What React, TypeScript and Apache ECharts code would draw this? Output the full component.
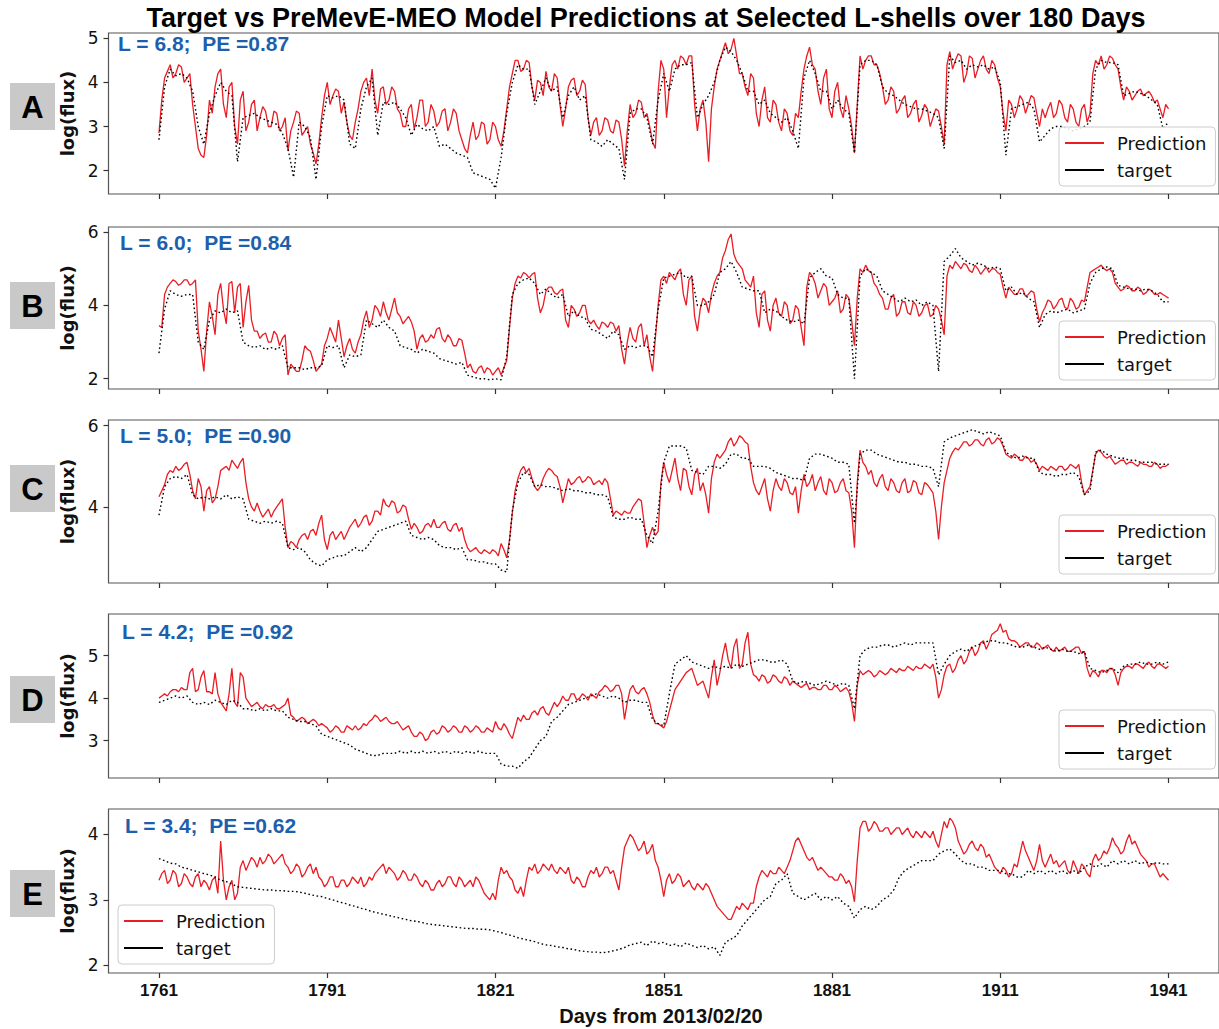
import React, { useEffect, useRef } from "react";
import * as echarts from "echarts";

const FIRST_DAY = 1761;
const X_TICKS = [1761, 1791, 1821, 1851, 1881, 1911, 1941];

// ---------- Panel A : L = 6.8 ----------
// prediction at whole days 1761..1941
const predA = [
  2.85, 4.1, 4.4, 4.2, 4.35, 4.1, 3.5, 2.5, 2.3, 3.6,
  3.9, 4.3, 3.2, 4.0, 2.6, 3.8, 3.1, 3.6, 3.2, 3.35,
  3.0, 3.3, 3.0, 2.45, 3.1, 3.3, 2.9, 2.6, 2.15, 3.2,
  4.0, 3.7, 3.8, 3.55, 2.8, 3.1, 3.8, 4.1, 4.3, 3.3,
  3.9, 3.6, 3.8, 3.3, 3.0, 3.5, 3.2, 3.6, 3.1, 3.35,
  3.1, 3.4, 3.1, 3.3, 2.7, 2.4, 3.1, 2.8, 3.05, 2.7,
  3.0, 2.55, 3.4, 4.2, 4.5, 4.3, 4.45, 3.6, 4.0, 4.25,
  3.8, 4.1, 3.0, 3.9, 4.1, 3.8, 3.95, 2.8, 3.2, 2.9,
  3.15, 2.85, 3.1, 2.1, 3.5, 3.3, 3.55, 3.3, 2.65, 3.8,
  4.3, 3.9, 4.5, 4.6, 4.4, 4.6, 2.9, 3.6, 2.2, 3.9,
  4.5, 4.9, 4.75, 4.6, 4.2, 3.7, 4.1, 3.0, 3.9, 3.1,
  3.5, 2.9, 3.3, 2.8, 3.2, 4.3, 4.8, 4.3, 3.5, 4.3,
  3.2, 4.0, 3.2, 3.4, 2.4, 4.6, 4.5, 4.6, 4.4, 3.9,
  3.6, 3.8, 3.4, 3.7, 3.3, 3.6, 3.25, 3.4, 3.2, 3.35,
  2.6, 4.7, 4.5, 4.6, 4.2, 4.55, 4.3, 4.6, 4.2, 4.4,
  3.9, 2.9, 3.5, 3.4, 3.6, 3.5, 3.65, 3.0, 3.2, 3.55,
  3.3, 3.5, 3.1, 3.4, 3.0, 3.5, 3.3, 4.5, 4.6, 4.4,
  4.55, 4.3, 3.6, 3.8, 3.7, 3.85, 3.75, 3.7, 3.6, 3.2,
  3.4,
];
// prediction at half days 1761.5..1940.5
const predHalfA = [
  3.6, 4.25, 4.1, 4.4, 4.0, 4.2, 3.0, 2.35, 2.8, 3.3,
  4.2, 3.5, 3.9, 3.0, 3.6, 2.9, 3.5, 2.9, 3.45, 3.0,
  3.35, 2.9, 3.2, 2.9, 3.35, 2.8, 3.0, 2.4, 2.6, 3.7,
  3.5, 3.85, 3.3, 3.1, 2.7, 3.4, 4.0, 3.7, 3.6, 3.85,
  3.5, 3.9, 3.4, 3.0, 3.4, 2.95, 3.6, 3.0, 3.5, 3.0,
  3.35, 2.9, 3.4, 2.9, 2.5, 2.8, 2.7, 3.1, 2.6, 3.1,
  2.7, 2.9, 3.9, 4.5, 4.25, 4.5, 3.9, 4.05, 3.7, 3.9,
  4.2, 3.5, 3.4, 4.05, 3.7, 4.05, 3.2, 3.1, 2.8, 3.2,
  2.9, 3.15, 2.7, 2.9, 3.2, 3.6, 3.2, 3.0, 2.5, 4.5,
  3.2, 4.4, 4.3, 4.55, 4.6, 3.5, 3.4, 3.1, 3.4, 4.3,
  4.7, 4.65, 5.0, 4.2, 3.9, 4.2, 3.3, 3.6, 3.2, 3.6,
  3.1, 3.4, 2.9, 3.3, 3.8, 4.6, 4.4, 3.8, 4.1, 3.4,
  3.8, 3.4, 3.7, 3.0, 3.5, 4.3, 4.6, 4.4, 4.2, 3.5,
  3.9, 3.3, 3.6, 3.2, 3.5, 3.1, 3.5, 3.0, 3.4, 3.0,
  4.4, 4.3, 4.65, 4.0, 4.6, 4.1, 4.5, 4.3, 4.5, 4.1,
  3.3, 3.6, 3.2, 3.7, 3.3, 3.7, 3.3, 3.4, 3.4, 3.2,
  3.6, 3.2, 3.5, 3.1, 3.4, 3.1, 4.2, 4.4, 4.3, 4.6,
  4.4, 3.9, 3.9, 3.6, 3.8, 3.7, 3.8, 3.55, 3.4, 3.5,
];
const targetA = [
  2.7, 3.9, 4.3, 4.15, 4.2, 4.1, 3.8, 3.0, 2.6, 3.3,
  3.7, 4.0, 3.8, 3.7, 2.2, 3.2, 3.25, 3.3, 3.2, 3.15,
  3.1, 3.05, 2.85, 2.5, 1.85, 3.1, 3.0, 2.75, 1.8, 3.0,
  3.7, 3.65, 3.7, 3.6, 2.6, 2.5, 3.4, 3.9, 4.1, 2.8,
  3.55, 3.5, 3.55, 3.4, 3.2, 2.8, 3.05, 2.95, 2.9, 3.0,
  2.55, 2.6, 2.5, 2.4, 2.35, 2.3, 1.95, 1.9, 1.85, 1.8,
  1.6, 2.3, 3.3, 4.0, 4.4, 4.3, 4.3, 3.5, 3.8, 4.1,
  3.8, 3.9, 3.2, 3.7, 3.9, 3.6, 3.7, 2.7, 2.65, 2.55,
  2.7, 2.6, 2.5, 1.8, 3.3, 3.4, 3.4, 3.2, 2.6, 3.6,
  4.2, 3.8, 4.3, 4.4, 4.4, 4.45, 3.2, 3.5, 3.7, 4.0,
  4.5, 4.8, 4.7, 4.5, 4.2, 3.8, 3.8, 3.5, 3.6, 3.3,
  3.2, 3.1, 3.2, 2.9, 2.5, 4.1, 4.5, 4.2, 3.8, 3.8,
  3.4, 3.6, 3.4, 3.3, 2.4, 4.4, 4.5, 4.5, 4.4, 3.9,
  3.75, 3.7, 3.6, 3.5, 3.45, 3.4, 3.4, 3.35, 3.3, 3.2,
  2.5, 4.6, 4.45, 4.5, 4.3, 4.4, 4.35, 4.4, 4.3, 4.35,
  4.0, 2.35, 3.4, 3.45, 3.5, 3.55, 3.4, 2.65, 2.8, 2.95,
  3.0, 3.0, 2.95, 2.9, 2.95, 3.0, 3.1, 4.3, 4.5, 4.45,
  4.45, 4.4, 3.7, 3.75, 3.8, 3.75, 3.7, 3.6, 3.5, 2.95,
  3.1,
];

// ---------- Panel B : L = 6.0 ----------
const predB = [
  3.45, 4.3, 4.6, 4.65, 4.6, 4.7, 4.6, 3.3, 2.2, 4.1,
  3.2, 4.6, 3.5, 4.65, 4.5, 3.4, 4.55, 3.3, 3.1, 3.25,
  3.0, 3.2, 3.1, 2.1, 2.3, 2.2, 2.9, 2.75, 2.2, 2.4,
  3.1, 3.2, 3.6, 2.6, 3.1, 2.7, 3.2, 3.85, 3.6, 3.9,
  4.1, 3.6, 4.2, 3.7, 3.6, 3.55, 2.8, 3.2, 3.05, 3.1,
  3.4, 3.0, 3.1, 2.9, 3.05, 2.3, 2.2, 2.3, 2.15, 2.25,
  2.2, 2.1, 2.5, 4.2, 4.8, 4.9, 4.75, 4.9, 3.8, 4.4,
  4.5, 4.3, 4.45, 3.4, 3.9, 3.8, 4.0, 3.5, 3.45, 3.55,
  3.4, 3.5, 3.45, 2.4, 3.4, 3.0, 3.5, 3.2, 2.2, 4.0,
  4.8, 4.9, 4.7, 5.0, 4.0, 4.8, 3.3, 4.2, 3.8, 4.6,
  4.9, 5.5, 5.95, 5.2, 5.0, 4.6, 4.8, 3.4, 4.4, 3.3,
  4.2, 3.7, 4.0, 3.6, 3.9, 2.9, 4.9, 4.6, 4.4, 4.5,
  4.1, 4.4, 3.9, 4.2, 2.9, 5.0, 5.1, 4.9, 4.5, 4.2,
  3.9, 4.3, 3.8, 4.1, 3.75, 4.0, 3.8, 4.05, 3.75, 3.9,
  3.2, 5.1, 5.2, 5.0, 5.1, 4.9, 5.0, 4.95, 4.9, 5.0,
  4.85, 4.2, 4.4, 4.3, 4.45, 4.3, 4.35, 3.55, 3.95, 4.1,
  4.0, 4.2, 3.9, 4.1, 3.95, 4.1, 4.9, 5.0, 5.1, 4.95,
  4.9, 4.5, 4.45, 4.5, 4.4, 4.45, 4.35, 4.4, 4.3, 4.3,
  4.2,
];
const predHalfB = [
  3.4, 4.5, 4.7, 4.55, 4.7, 4.55, 4.7, 2.8, 3.3, 3.7,
  4.3, 3.9, 4.6, 3.8, 4.6, 4.1, 3.6, 3.3, 3.2, 3.0,
  3.3, 2.9, 3.2, 2.4, 2.2, 2.5, 2.8, 2.5, 2.3, 2.9,
  3.4, 3.0, 3.1, 2.9, 2.8, 3.0, 3.6, 3.4, 4.0, 3.7,
  3.8, 3.9, 3.8, 3.5, 3.7, 3.3, 3.1, 3.0, 3.2, 3.35,
  3.1, 3.2, 2.9, 3.1, 2.7, 2.4, 2.15, 2.35, 2.3, 2.1,
  2.3, 2.3, 3.4, 4.6, 4.75, 4.85, 4.85, 4.2, 4.0, 4.5,
  4.35, 4.4, 3.6, 4.0, 3.7, 4.0, 3.6, 3.6, 3.35, 3.5,
  3.55, 3.3, 2.8, 3.0, 3.1, 3.4, 2.9, 2.6, 3.1, 4.7,
  4.6, 4.8, 4.9, 4.3, 4.7, 3.7, 3.9, 4.1, 4.3, 4.8,
  5.3, 5.8, 5.4, 5.1, 4.7, 4.5, 3.8, 4.3, 3.6, 4.0,
  3.8, 4.1, 3.5, 4.0, 3.4, 4.5, 4.8, 4.2, 4.6, 4.0,
  4.2, 3.8, 4.3, 3.6, 4.2, 4.9, 4.95, 4.6, 4.3, 3.9,
  4.2, 3.7, 4.1, 3.8, 4.1, 3.7, 4.0, 3.7, 4.0, 3.6,
  4.8, 5.0, 5.1, 5.15, 4.95, 5.1, 4.85, 5.05, 5.0, 4.9,
  4.5, 4.5, 4.3, 4.45, 4.25, 4.4, 3.9, 3.8, 4.15, 3.9,
  4.15, 3.95, 4.2, 3.9, 4.15, 4.5, 4.95, 5.05, 5.0, 5.0,
  4.6, 4.4, 4.55, 4.4, 4.5, 4.3, 4.45, 4.3, 4.35, 4.25,
];
const targetB = [
  2.7, 3.9, 4.4, 4.3, 4.25, 4.3, 4.3, 3.0, 2.8, 3.6,
  3.85, 3.8, 3.9, 3.8, 3.85, 3.0, 2.9, 2.85, 2.9, 2.8,
  2.85, 2.8, 2.9, 2.3, 2.3, 2.3, 2.25, 2.3, 2.3, 2.35,
  2.9, 2.85, 2.9, 2.3, 2.65, 2.6, 2.65, 3.6, 3.5, 3.4,
  3.6, 3.4, 3.3, 2.9, 2.85, 2.8, 2.7, 2.8, 2.75, 2.7,
  2.55, 2.5, 2.45, 2.4, 2.45, 2.1, 2.05, 2.0, 2.0, 1.97,
  2.0, 1.97, 2.6, 4.3, 4.6, 4.7, 4.75, 4.6, 4.3, 4.45,
  4.3, 4.2, 4.3, 3.7, 3.85, 3.7, 3.65, 3.35, 3.3, 3.2,
  3.1, 3.3, 3.2, 2.8, 2.9, 2.85, 2.9, 2.9, 2.6, 3.9,
  4.75, 4.8, 4.85, 4.9, 4.75, 4.8, 4.0, 4.0, 4.1, 4.3,
  4.9, 5.0, 5.2, 4.9, 4.5, 4.45, 4.4, 4.4, 3.8, 3.9,
  3.85, 3.7, 3.6, 3.55, 3.6, 3.5, 4.75, 4.9, 5.0, 4.8,
  4.75, 4.3, 4.2, 4.2, 2.0, 4.8, 5.0, 4.9, 4.8, 4.4,
  4.3, 4.2, 4.1, 4.2, 4.1, 4.15, 4.0, 4.1, 4.0, 2.2,
  5.2, 5.35, 5.55, 5.3, 5.2, 5.1, 5.15, 5.1, 5.0, 5.05,
  5.0, 4.4, 4.5, 4.3, 4.35, 4.2, 4.1, 3.4, 3.75, 3.85,
  3.8, 3.85, 3.9, 3.8, 3.85, 3.9, 4.6, 4.9, 5.0, 5.05,
  5.0, 4.55, 4.5, 4.45, 4.45, 4.4, 4.45, 4.4, 4.3, 4.1,
  4.1,
];

// ---------- Panel C : L = 5.0 ----------
const predC = [
  4.25, 4.55, 4.9, 5.0, 4.95, 5.1, 4.4, 4.7, 3.9, 4.5,
  4.2, 4.9, 5.0, 5.15, 4.95, 5.2, 4.2, 3.9, 3.9, 3.85,
  3.75, 4.0, 4.2, 3.0, 3.1, 3.2, 3.35, 3.4, 3.3, 3.8,
  2.95, 3.4, 3.3, 3.2, 3.5, 3.7, 3.6, 3.8, 3.65, 3.9,
  4.2, 4.0, 4.1, 3.9, 4.0, 3.45, 3.5, 3.4, 3.6, 3.7,
  3.5, 3.65, 3.4, 3.6, 3.5, 3.0, 2.95, 2.9, 2.95, 2.85,
  2.9, 3.1, 2.75, 3.85, 4.7, 5.0, 4.95, 4.5, 4.5, 4.85,
  4.9, 4.75, 4.1, 4.7, 4.6, 4.75, 4.65, 4.7, 4.6, 4.55,
  4.6, 3.8, 3.85, 3.9, 3.85, 4.1, 4.15, 3.0, 3.5, 3.4,
  5.1, 4.6, 5.2, 4.4, 4.9, 4.3, 4.95, 4.6, 3.85, 5.1,
  5.2, 5.4, 5.7, 5.6, 5.7, 5.55, 4.6, 4.3, 4.7, 3.9,
  4.7, 4.4, 4.6, 4.3, 3.85, 4.8, 4.6, 4.4, 4.75, 4.3,
  4.6, 4.4, 4.7, 4.35, 3.0, 5.4, 5.0, 4.9, 4.5, 4.8,
  4.4, 4.6, 4.35, 4.7, 4.4, 4.6, 4.3, 4.55, 4.35, 3.2,
  4.6, 5.2, 5.45, 5.5, 5.6, 5.55, 5.65, 5.5, 5.7, 5.6,
  5.65, 5.3, 5.2, 5.25, 5.15, 5.2, 5.15, 4.9, 4.95, 5.0,
  4.9, 5.0, 4.95, 5.0, 5.05, 4.3, 4.5, 5.3, 5.35, 5.2,
  5.15, 5.1, 5.15, 5.1, 5.05, 5.1, 5.05, 5.0, 5.05, 5.0,
  5.05,
];
const predHalfC = [
  4.4, 4.8, 4.85, 4.9, 5.05, 4.8, 4.2, 4.5, 4.4, 4.1,
  4.5, 4.95, 4.9, 5.05, 5.1, 4.6, 4.0, 4.1, 3.75, 3.95,
  3.9, 4.1, 3.5, 3.15, 3.0, 3.3, 3.2, 3.45, 3.6, 3.2,
  3.3, 3.2, 3.4, 3.35, 3.6, 3.5, 3.75, 3.55, 3.9, 3.8,
  4.05, 4.15, 3.85, 4.05, 3.7, 3.6, 3.35, 3.55, 3.5, 3.5,
  3.6, 3.45, 3.55, 3.4, 3.2, 2.9, 3.0, 2.85, 2.9, 2.95,
  2.8, 2.95, 3.2, 4.4, 4.9, 4.85, 4.7, 4.4, 4.7, 4.95,
  4.8, 4.5, 4.4, 4.55, 4.7, 4.6, 4.75, 4.55, 4.65, 4.7,
  4.2, 3.9, 3.8, 3.85, 4.0, 4.2, 3.6, 3.3, 3.3, 4.6,
  4.8, 4.9, 4.7, 4.95, 4.5, 4.8, 4.4, 4.3, 4.7, 5.3,
  5.3, 5.6, 5.5, 5.75, 5.6, 5.0, 4.4, 4.5, 4.2, 4.4,
  4.5, 4.7, 4.35, 4.5, 4.4, 4.5, 4.8, 4.6, 4.4, 4.7,
  4.35, 4.6, 4.4, 3.9, 4.6, 5.1, 4.8, 4.6, 4.7, 4.5,
  4.7, 4.4, 4.6, 4.35, 4.65, 4.35, 4.6, 4.45, 3.9, 4.0,
  4.9, 5.35, 5.4, 5.6, 5.5, 5.65, 5.55, 5.65, 5.55, 5.7,
  5.5, 5.25, 5.3, 5.15, 5.25, 5.1, 5.05, 5.0, 4.9, 4.95,
  5.0, 4.9, 5.05, 4.95, 4.6, 4.4, 4.9, 5.4, 5.25, 5.25,
  5.05, 5.15, 5.05, 5.1, 5.0, 5.05, 5.0, 5.1, 4.95, 5.0,
];
const targetC = [
  3.8, 4.5, 4.7, 4.75, 4.7, 4.8, 4.3, 4.2, 4.25, 4.2,
  4.25, 4.2, 4.3, 4.2, 4.25, 4.2, 3.7, 3.65, 3.6, 3.65,
  3.6, 3.65, 3.6, 3.0, 2.95, 3.0, 2.9, 2.7, 2.6, 2.55,
  2.7, 2.75, 2.8, 2.8, 2.9, 3.0, 2.9, 3.0, 3.2, 3.4,
  3.45, 3.5, 3.55, 3.6, 3.65, 3.3, 3.25, 3.2, 3.25, 3.2,
  3.05, 3.0, 3.0, 2.95, 3.0, 2.7, 2.7, 2.65, 2.65, 2.6,
  2.6, 2.45, 2.4, 3.9, 4.6, 4.85, 4.8, 4.5, 4.55, 4.5,
  4.5, 4.45, 4.4, 4.45, 4.4, 4.4, 4.35, 4.35, 4.3, 4.3,
  4.25, 3.75, 3.7, 3.7, 3.75, 3.7, 3.7, 3.3, 3.1, 3.9,
  5.1, 5.5, 5.5, 5.5, 5.45, 4.9, 4.85, 4.8, 5.0, 5.0,
  4.95, 5.05, 5.3, 5.3, 5.2, 5.2, 5.0, 5.0, 5.0, 4.95,
  4.85, 4.8, 4.75, 4.7, 4.7, 4.65, 5.2, 5.3, 5.3, 5.25,
  5.2, 5.1, 5.1, 5.05, 3.6, 5.3, 5.4, 5.4, 5.3, 5.25,
  5.2, 5.15, 5.1, 5.1, 5.05, 5.05, 5.0, 5.0, 4.95, 4.5,
  5.6, 5.7, 5.75, 5.8, 5.85, 5.9, 5.85, 5.8, 5.85, 5.8,
  5.75, 5.35, 5.25, 5.2, 5.25, 5.2, 5.2, 4.85, 4.8, 4.8,
  4.75, 4.8, 4.8, 4.85, 4.75, 4.3, 4.4, 5.35, 5.4, 5.3,
  5.25, 5.2, 5.2, 5.15, 5.15, 5.1, 5.1, 5.1, 5.05, 5.05,
  5.05,
];

// ---------- Panel D : L = 4.2 ----------
const predD = [
  4.0, 4.1, 4.15, 4.2, 4.25, 4.2, 4.7, 4.2, 4.65, 4.15,
  4.6, 3.9, 3.7, 4.7, 3.8, 4.5, 3.9, 3.85, 3.8, 3.85,
  3.8, 3.75, 3.8, 4.0, 3.55, 3.5, 3.5, 3.45, 3.45, 3.4,
  3.3, 3.25, 3.3, 3.2, 3.3, 3.35, 3.3, 3.35, 3.5, 3.55,
  3.5, 3.45, 3.4, 3.35, 3.3, 3.2, 3.1, 3.15, 3.05, 3.25,
  3.2, 3.3, 3.25, 3.3, 3.2, 3.3, 3.25, 3.3, 3.2, 3.25,
  3.45, 3.25, 3.3, 3.05, 3.55, 3.6, 3.5, 3.7, 3.75, 3.65,
  3.75, 3.8, 4.05, 3.95, 4.1, 4.0, 4.05, 4.1, 4.0, 4.2,
  4.25, 4.2, 4.3, 3.5, 4.2, 4.15, 4.2, 4.1, 3.6, 3.4,
  3.3, 3.7, 4.2, 4.4, 4.6, 4.7, 4.3, 4.4, 4.0, 4.9,
  4.6, 5.3, 4.7, 5.4, 4.8, 5.55, 4.55, 4.4, 4.5, 4.4,
  4.5, 4.35, 4.45, 4.4, 4.3, 4.3, 4.2, 4.25, 4.2, 4.3,
  4.2, 4.25, 4.2, 4.15, 3.45, 4.65, 4.6, 4.6, 4.55, 4.6,
  4.6, 4.65, 4.7, 4.65, 4.7, 4.75, 4.7, 4.75, 4.8, 4.0,
  4.55, 4.8, 4.7, 5.0, 4.9, 5.2, 5.1, 5.35, 5.3, 5.55,
  5.75, 5.6, 5.35, 5.3, 5.25, 5.3, 5.2, 5.25, 5.2, 5.15,
  5.2, 5.15, 5.1, 5.15, 5.2, 5.1, 4.5, 4.6, 4.65, 4.6,
  4.7, 4.3, 4.7, 4.75, 4.8, 4.75, 4.8, 4.75, 4.8, 4.75,
  4.75,
];
const predHalfD = [
  4.05, 4.05, 4.2, 4.15, 4.2, 4.6, 4.15, 4.5, 4.15, 4.1,
  4.1, 3.8, 4.1, 3.9, 4.6, 4.0, 3.8, 3.9, 3.75, 3.8,
  3.85, 3.75, 3.85, 3.6, 3.45, 3.55, 3.4, 3.5, 3.35, 3.35,
  3.2, 3.35, 3.2, 3.35, 3.25, 3.25, 3.4, 3.45, 3.6, 3.45,
  3.55, 3.4, 3.45, 3.25, 3.35, 3.1, 3.2, 3.0, 3.2, 3.15,
  3.35, 3.2, 3.35, 3.2, 3.35, 3.2, 3.35, 3.2, 3.3, 3.2,
  3.3, 3.4, 3.15, 3.3, 3.45, 3.5, 3.65, 3.6, 3.8, 3.6,
  3.9, 3.9, 3.95, 4.1, 3.95, 4.1, 3.95, 4.05, 4.15, 4.3,
  4.15, 4.3, 4.1, 3.9, 4.3, 4.1, 4.25, 3.9, 3.4, 3.35,
  3.45, 3.95, 4.3, 4.5, 4.65, 4.5, 4.35, 4.2, 4.5, 4.3,
  5.0, 4.9, 5.2, 4.7, 5.3, 4.8, 4.5, 4.55, 4.35, 4.55,
  4.4, 4.5, 4.3, 4.35, 4.25, 4.35, 4.25, 4.2, 4.3, 4.2,
  4.3, 4.15, 4.25, 3.9, 4.3, 4.55, 4.65, 4.5, 4.65, 4.55,
  4.7, 4.6, 4.65, 4.75, 4.65, 4.7, 4.8, 4.7, 4.5, 4.2,
  4.75, 4.6, 4.9, 4.8, 5.1, 5.0, 5.3, 5.15, 5.5, 5.6,
  5.55, 5.4, 5.35, 5.2, 5.3, 5.2, 5.3, 5.15, 5.25, 5.1,
  5.1, 5.2, 5.1, 5.2, 5.05, 4.7, 4.65, 4.5, 4.65, 4.7,
  4.55, 4.6, 4.75, 4.7, 4.8, 4.7, 4.85, 4.7, 4.8, 4.7,
];
const targetD = [
  3.9, 3.95, 4.0, 4.05, 4.0, 4.05, 3.9, 3.85, 3.9, 3.85,
  3.95, 3.9, 3.85, 3.95, 3.9, 3.75, 3.75, 3.7, 3.75, 3.7,
  3.75, 3.7, 3.7, 3.55, 3.5, 3.45, 3.45, 3.4, 3.35, 3.15,
  3.1, 3.05, 3.0, 2.95, 2.9, 2.8, 2.75, 2.7, 2.65, 2.65,
  2.7, 2.7, 2.7, 2.75, 2.7, 2.75, 2.7, 2.75, 2.7, 2.75,
  2.7, 2.75, 2.7, 2.75, 2.7, 2.75, 2.7, 2.75, 2.7, 2.7,
  2.7, 2.45, 2.4, 2.4, 2.35, 2.5, 2.6, 2.8, 3.0, 3.1,
  3.45, 3.55, 3.7, 3.85, 3.9, 3.95, 4.0, 4.05, 4.1, 4.05,
  4.0, 4.05, 4.0, 3.9, 3.95, 3.95, 3.9, 3.9, 3.5, 3.4,
  3.35, 4.1, 4.8, 4.9, 5.0, 4.85, 4.8, 4.75, 4.7, 4.75,
  4.7, 4.75, 4.7, 4.8, 4.75, 4.8, 4.85, 4.9, 4.9, 4.85,
  4.85, 4.9, 4.8, 4.4, 4.35, 4.4, 4.35, 4.3, 4.35, 4.4,
  4.35, 4.3, 4.35, 4.3, 3.75, 5.0, 5.15, 5.2, 5.2, 5.25,
  5.25, 5.2, 5.25, 5.3, 5.25, 5.3, 5.3, 5.3, 5.3, 4.55,
  4.8, 5.0, 5.1, 5.15, 5.1, 5.2, 5.25, 5.3, 5.35, 5.35,
  5.3, 5.3, 5.25, 5.2, 5.2, 5.25, 5.2, 5.15, 5.2, 5.15,
  5.1, 5.15, 5.1, 5.1, 5.05, 5.1, 4.7, 4.65, 4.6, 4.65,
  4.7, 4.6, 4.75, 4.8, 4.8, 4.85, 4.8, 4.8, 4.85, 4.8,
  4.85,
];

// ---------- Panel E : L = 3.4 ----------
const predE = [
  3.3, 3.45, 3.3, 3.4, 3.25, 3.35, 3.2, 3.4, 3.3, 3.15,
  3.35, 3.9, 3.0, 3.3, 3.1, 3.6, 3.55, 3.6, 3.65, 3.6,
  3.65, 3.6, 3.7, 3.5, 3.45, 3.5, 3.4, 3.55, 3.5, 3.3,
  3.25, 3.35, 3.2, 3.3, 3.25, 3.3, 3.35, 3.25, 3.3, 3.45,
  3.55, 3.5, 3.4, 3.35, 3.4, 3.3, 3.35, 3.2, 3.25, 3.15,
  3.3, 3.25, 3.35, 3.2, 3.3, 3.25, 3.2, 3.3, 3.1, 3.0,
  3.0, 3.5, 3.45, 3.3, 3.1, 3.05, 3.5, 3.55, 3.45, 3.5,
  3.55, 3.4, 3.45, 3.5, 3.25, 3.3, 3.2, 3.45, 3.5, 3.4,
  3.5, 3.45, 3.15, 3.8, 4.0, 3.85, 3.8, 3.7, 3.85, 3.5,
  3.05, 3.4, 3.3, 3.35, 3.25, 3.2, 3.25, 3.15, 3.2, 3.0,
  2.85, 2.75, 2.7, 2.9, 2.95, 2.85, 2.95, 3.35, 3.4, 3.45,
  3.4, 3.45, 3.5, 3.75, 3.95, 3.75, 3.6, 3.55, 3.5, 3.4,
  3.35, 3.3, 3.35, 3.3, 2.97, 4.1, 4.2, 4.1, 4.15, 4.05,
  4.1, 4.05, 4.1, 4.05, 4.0, 4.05, 3.95, 4.0, 4.05, 3.8,
  4.2, 4.25, 4.1, 3.8, 3.75, 3.9, 3.75, 3.8, 3.7, 3.5,
  3.4, 3.45, 3.4, 3.5, 3.9, 3.65, 3.45, 3.85, 3.5, 3.7,
  3.6, 3.55, 3.45, 3.6, 3.4, 3.5, 3.35, 3.7, 3.65, 3.7,
  3.95, 3.8, 3.75, 4.0, 3.9, 3.7, 3.6, 3.55, 3.45, 3.4,
  3.3,
];
const predHalfE = [
  3.4, 3.25, 3.45, 3.2, 3.4, 3.25, 3.35, 3.2, 3.25, 3.3,
  3.1, 3.3, 3.2, 3.0, 3.5, 3.45, 3.65, 3.5, 3.55, 3.7,
  3.55, 3.65, 3.55, 3.4, 3.55, 3.35, 3.5, 3.4, 3.35, 3.2,
  3.35, 3.2, 3.3, 3.2, 3.35, 3.25, 3.2, 3.35, 3.4, 3.5,
  3.4, 3.45, 3.3, 3.45, 3.3, 3.4, 3.25, 3.3, 3.15, 3.25,
  3.2, 3.35, 3.25, 3.35, 3.2, 3.3, 3.35, 3.2, 3.05, 3.1,
  3.3, 3.4, 3.35, 3.15, 3.2, 3.3, 3.45, 3.4, 3.55, 3.45,
  3.45, 3.5, 3.4, 3.3, 3.35, 3.2, 3.35, 3.4, 3.35, 3.5,
  3.4, 3.3, 3.5, 3.9, 3.95, 3.75, 3.9, 3.75, 3.6, 3.3,
  3.3, 3.25, 3.4, 3.2, 3.3, 3.15, 3.2, 3.25, 3.1, 2.9,
  2.8, 2.7, 2.8, 2.85, 2.9, 2.95, 3.2, 3.45, 3.35, 3.4,
  3.5, 3.4, 3.6, 3.9, 3.85, 3.65, 3.65, 3.45, 3.45, 3.35,
  3.3, 3.4, 3.25, 3.2, 3.6, 4.2, 4.05, 4.2, 4.05, 4.1,
  4.0, 4.1, 4.0, 4.1, 3.95, 4.0, 4.05, 3.95, 3.9, 4.0,
  4.1, 4.2, 3.9, 3.7, 3.85, 3.8, 3.85, 3.65, 3.6, 3.45,
  3.5, 3.35, 3.55, 3.7, 3.75, 3.55, 3.6, 3.6, 3.6, 3.55,
  3.5, 3.6, 3.4, 3.5, 3.55, 3.4, 3.6, 3.6, 3.75, 3.8,
  3.85, 3.7, 3.9, 3.85, 3.8, 3.65, 3.5, 3.55, 3.35, 3.35,
];
const targetE = [
  3.63, 3.6, 3.56, 3.55, 3.5, 3.48, 3.45, 3.43, 3.4, 3.38,
  3.35, 3.3, 3.28, 3.24, 3.2, 3.19, 3.18, 3.17, 3.16, 3.15,
  3.15, 3.14, 3.14, 3.13, 3.13, 3.12, 3.1, 3.08, 3.06, 3.05,
  3.02, 3.0, 2.97, 2.95, 2.92, 2.9, 2.87, 2.85, 2.82, 2.8,
  2.78, 2.76, 2.74, 2.72, 2.7, 2.68, 2.67, 2.65, 2.63, 2.62,
  2.61, 2.6, 2.59, 2.58, 2.57, 2.56, 2.56, 2.55, 2.55, 2.54,
  2.52, 2.5, 2.47, 2.45, 2.42, 2.4, 2.38, 2.36, 2.33, 2.31,
  2.3, 2.28, 2.27, 2.25, 2.24, 2.22, 2.21, 2.2, 2.2, 2.19,
  2.2, 2.22, 2.24, 2.27, 2.31, 2.33, 2.35, 2.3, 2.37, 2.33,
  2.35, 2.3, 2.32, 2.28, 2.34, 2.3, 2.27, 2.3, 2.25, 2.28,
  2.15, 2.35, 2.4, 2.45, 2.6, 2.7, 2.8, 2.9, 3.0, 3.05,
  3.25, 3.3, 3.4, 3.1, 3.05, 3.0, 3.05, 3.1, 3.0, 3.05,
  3.0, 3.05, 2.95, 2.9, 2.72, 2.85, 2.9, 2.85, 2.9, 3.0,
  3.05, 3.15, 3.35, 3.45, 3.5, 3.55, 3.6, 3.6, 3.6, 3.7,
  3.75, 3.78, 3.7, 3.6, 3.55, 3.55, 3.5, 3.5, 3.45, 3.45,
  3.45, 3.4, 3.4, 3.35, 3.35, 3.45, 3.4, 3.45, 3.4, 3.45,
  3.4, 3.45, 3.4, 3.45, 3.4, 3.5, 3.55, 3.5, 3.55, 3.5,
  3.6, 3.55, 3.6, 3.55, 3.6, 3.55, 3.58, 3.55, 3.57, 3.55,
  3.55,
];

const PREDICTIONS = [predA, predB, predC, predD, predE];
const PREDICTIONS_HALF = [predHalfA, predHalfB, predHalfC, predHalfD, predHalfE];
const TARGETS = [targetA, targetB, targetC, targetD, targetE];
const PANEL_LETTERS = ["A", "B", "C", "D", "E"];
const PANEL_NOTES = [
  "L = 6.8;  PE =0.87",
  "L = 6.0;  PE =0.84",
  "L = 5.0;  PE =0.90",
  "L = 4.2;  PE =0.92",
  "L = 3.4;  PE =0.62",
];
const Y_TICKS = [[2, 3, 4, 5], [2, 4, 6], [4, 6], [3, 4, 5], [2, 3, 4]];
const Y_RANGES = [[1.47, 5.12], [1.72, 6.14], [2.13, 6.14], [2.12, 5.98], [1.88, 4.39]];
const TITLE = "Target vs PreMevE-MEO Model Predictions at Selected L-shells over 180 Days";
const X_NAME = "Days from 2013/02/20";

// ---------- layout (pixels) ----------
const GRID_TOPS = [33, 227, 420, 614, 809];
const GRID_HEIGHTS = [161, 162, 163, 164, 164];
const LEGEND_POS = [
  { left: 1059, top: 127 },
  { left: 1059, top: 321 },
  { left: 1059, top: 515 },
  { left: 1059, top: 710 },
  { left: 118, top: 905 },
];
const NOTE_POS = [
  { x: 118, y: 43 },
  { x: 120, y: 242 },
  { x: 120, y: 435 },
  { x: 122, y: 631 },
  { x: 125, y: 825 },
];
const BOX_TOPS = [83, 282, 465, 676, 870];

const RED = "#ea1c24";
const BLUE = "#1d5fad";
const FRAME = "#555555";

function toPoints(values: number[]) {
  return values.map((v, i) => [FIRST_DAY + i, v]);
}
function toHalfDayPoints(whole: number[], half: number[]) {
  const pts: number[][] = [];
  whole.forEach((v, i) => {
    pts.push([FIRST_DAY + i, v]);
    if (i < half.length) pts.push([FIRST_DAY + i + 0.5, half[i]]);
  });
  return pts;
}

export default function App() {
  const ref = useRef<HTMLDivElement>(null);

  useEffect(() => {
    if (!ref.current) return;
    const chart = echarts.init(ref.current, null, { renderer: "svg" });

    const grids: any[] = [];
    const xAxes: any[] = [];
    const yAxes: any[] = [];
    const series: any[] = [];
    const legends: any[] = [];
    const graphics: any[] = [];

    for (let i = 0; i < 5; i++) {
      grids.push({
        left: 108.5,
        top: GRID_TOPS[i],
        width: 1114,
        height: GRID_HEIGHTS[i],
        show: true,
        borderColor: FRAME,
        borderWidth: 1.2,
        backgroundColor: "transparent",
      });
      xAxes.push({
        type: "value",
        gridIndex: i,
        min: 1752,
        max: 1950,
        axisLine: { show: false },
        splitLine: { show: false },
        axisTick: {
          show: true,
          customValues: X_TICKS,
          length: 5,
          lineStyle: { color: "#333", width: 1.2 },
        },
        axisLabel: {
          show: i === 4,
          customValues: X_TICKS,
          margin: 9,
          fontFamily: "'Liberation Sans', Arial, sans-serif",
          fontWeight: "bold",
          fontSize: 17,
          color: "#111",
          formatter: (v: number) => String(v),
        },
      });
      yAxes.push({
        type: "value",
        gridIndex: i,
        min: Y_RANGES[i][0],
        max: Y_RANGES[i][1],
        axisLine: { show: false },
        splitLine: { show: false },
        axisTick: {
          show: true,
          customValues: Y_TICKS[i],
          length: 5,
          lineStyle: { color: "#333", width: 1.2 },
        },
        axisLabel: {
          customValues: Y_TICKS[i],
          margin: 10,
          fontFamily: "'DejaVu Sans', sans-serif",
          fontSize: 17,
          color: "#111",
          formatter: (v: number) => String(v),
        },
        name: "log(flux)",
        nameLocation: "middle",
        nameRotate: 90,
        nameGap: 23,
        nameTextStyle: {
          fontFamily: "'DejaVu Sans', sans-serif",
          fontWeight: "bold",
          fontSize: 18,
          color: "#111",
        },
      });
      series.push({
        type: "line",
        name: "Prediction",
        xAxisIndex: i,
        yAxisIndex: i,
        data: toHalfDayPoints(PREDICTIONS[i], PREDICTIONS_HALF[i]),
        symbol: "none",
        showSymbol: false,
        clip: true,
        color: RED,
        lineStyle: { color: RED, width: 1.3 },
        itemStyle: { color: RED },
        z: 2,
      });
      series.push({
        type: "line",
        name: "target",
        xAxisIndex: i,
        yAxisIndex: i,
        data: toPoints(TARGETS[i]),
        symbol: "none",
        showSymbol: false,
        clip: true,
        color: "#000",
        lineStyle: { color: "#000", width: 1.4, type: [1.6, 2.6] },
        itemStyle: { color: "#000" },
        z: 3,
      });
      legends.push({
        left: LEGEND_POS[i].left,
        top: LEGEND_POS[i].top,
        orient: "vertical",
        selectedMode: false,
        data: [
          { name: "Prediction", icon: "rect", itemStyle: { color: RED } },
          { name: "target", icon: "rect", itemStyle: { color: "#000" } },
        ],
        itemWidth: 39,
        itemHeight: 2,
        itemGap: 7,
        padding: [6, 9, 6, 6],
        backgroundColor: "rgba(255,255,255,0.85)",
        borderColor: "#cccccc",
        borderWidth: 1,
        borderRadius: 4,
        textStyle: {
          fontFamily: "'DejaVu Sans', sans-serif",
          fontSize: 18,
          color: "#111",
          lineHeight: 20,
          padding: [0, 0, 0, 8],
        },
        z: 10,
      });
      graphics.push({
        type: "rect",
        shape: { x: 10, y: BOX_TOPS[i], width: 45, height: 47 },
        style: { fill: "#c9c9c9" },
      });
      graphics.push({
        type: "text",
        x: 32.5,
        y: BOX_TOPS[i] + 24,
        style: {
          text: PANEL_LETTERS[i],
          font: "bold 31px 'Liberation Sans', Arial, sans-serif",
          fill: "#000",
          textAlign: "center",
          textVerticalAlign: "middle",
        },
      });
      graphics.push({
        type: "text",
        x: NOTE_POS[i].x,
        y: NOTE_POS[i].y,
        z: 20,
        style: {
          text: PANEL_NOTES[i],
          font: "bold 21px 'Liberation Sans', Arial, sans-serif",
          fill: BLUE,
          textAlign: "left",
          textVerticalAlign: "middle",
        },
      });
    }

    graphics.push({
      type: "text",
      x: 646,
      y: 18,
      style: {
        text: TITLE,
        font: "bold 27px 'Liberation Sans', Arial, sans-serif",
        fill: "#000",
        textAlign: "center",
        textVerticalAlign: "middle",
      },
    });
    graphics.push({
      type: "text",
      x: 661,
      y: 1016,
      style: {
        text: X_NAME,
        font: "bold 20px 'Liberation Sans', Arial, sans-serif",
        fill: "#111",
        textAlign: "center",
        textVerticalAlign: "middle",
      },
    });

    chart.setOption({
      animation: false,
      backgroundColor: "#ffffff",
      grid: grids,
      xAxis: xAxes,
      yAxis: yAxes,
      series,
      legend: legends,
      graphic: graphics,
    });

    return () => chart.dispose();
  }, []);

  return (
    <div
      ref={ref}
      style={{ position: "absolute", left: 0, top: 0, width: 1219, height: 1029, background: "#fff" }}
    />
  );
}
